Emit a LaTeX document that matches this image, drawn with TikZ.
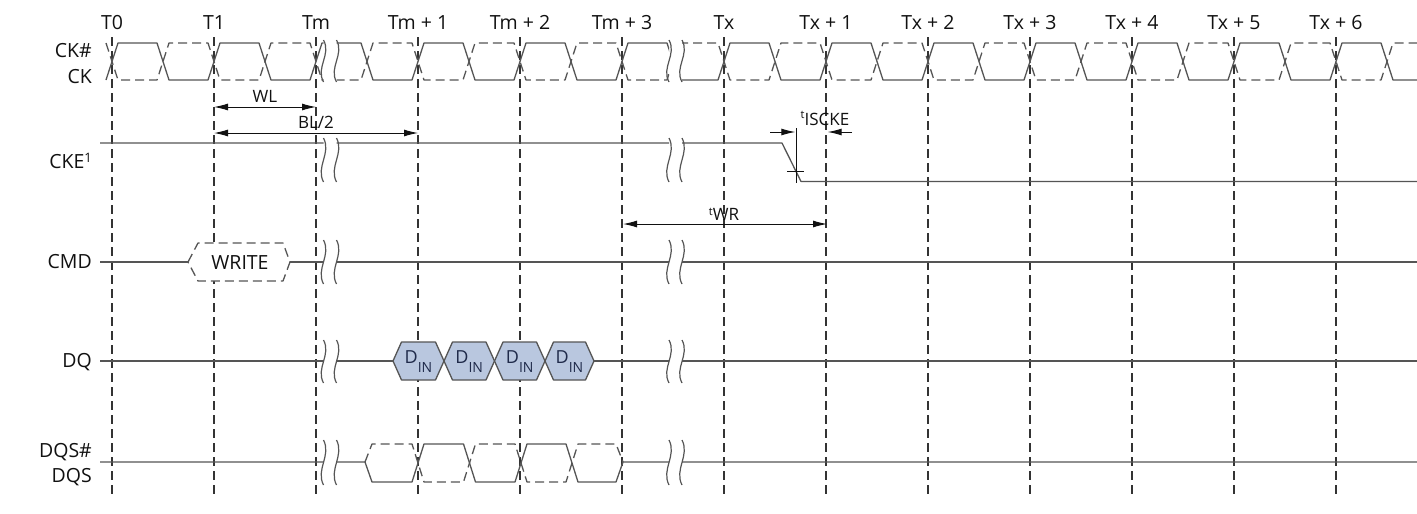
\documentclass[tikz,border=0pt]{standalone}
\usepackage{fontspec}
\setmainfont{Open Sans}
\usetikzlibrary{arrows.meta}
\definecolor{wavec}{HTML}{555555}
\definecolor{gridc}{HTML}{333333}
\definecolor{txt}{HTML}{111111}
\definecolor{dinfill}{HTML}{B9C7DF}
\definecolor{dintxt}{HTML}{1F2A4A}
\begin{document}
\begin{tikzpicture}[x=1pt,y=-1pt,
  wave/.style={draw=wavec, line width=1.3pt, line join=round},
  dashwave/.style={wave, dash pattern=on 9pt off 5pt},
  gridline/.style={draw=gridc, line width=1.3pt, dash pattern=on 9pt off 5pt},
  brkmark/.style={draw=wavec, line width=1.2pt},
  dimarrow/.style={draw=txt, line width=1pt, {Latex[length=14pt,width=7pt]}-{Latex[length=14pt,width=7pt]}},
  onearrow/.style={draw=txt, line width=1pt, -{Latex[length=14pt,width=7pt]}},
  tlabel/.style={text=txt, font=\fontsize{19.5}{20}\selectfont, anchor=base, inner sep=0pt},
  slabel/.style={text=txt, font=\fontsize{19.5}{20}\selectfont, anchor=base east, inner sep=0pt},
  alabel/.style={text=txt, font=\fontsize{17}{18}\selectfont, anchor=base, inner sep=0pt},
  dintext/.style={text=dintxt, font=\fontsize{18}{18}\selectfont, anchor=base, inner sep=0pt},
]
\useasboundingbox[fill=white] (0,0) rectangle (1417,514);

% grid lines and time labels
\foreach \i/\lab in {0/T0,1/T1,2/Tm,3/Tm + 1,4/Tm + 2,5/Tm + 3,6/Tx,7/Tx + 1,8/Tx + 2,9/Tx + 3,10/Tx + 4,11/Tx + 5,12/Tx + 6}{
  \coordinate (g\i) at ({112+102*\i},37);
  \coordinate (h\i) at ({112+102*\i},498);
  \draw[gridline] (g\i) -- (h\i);
  \node[tlabel] (tl\i) at ({112+102*\i},29) {\lab};
}

% signal labels
\node[slabel] (lck1) at (92,57) {CK\#};
\node[slabel] (lck) at (92,83) {CK};
\node[slabel] (lcke) at (92,168) {CKE\raisebox{6pt}{\fontsize{13}{13}\selectfont 1}};
\node[slabel] (lcmd) at (92,268.5) {CMD};
\node[slabel] (ldq) at (92,367) {DQ};
\node[slabel] (ldqs1) at (92,457) {DQS\#};
\node[slabel] (ldqs) at (92,482) {DQS};

% signals, interrupted at the two breaks
\begin{scope}
\clip (0,0) rectangle (323.5,514) (336.5,0) rectangle (669,514) (682,0) rectangle (1417,514);
% CK
\draw[wave] (106,80) \foreach \i in {0,...,12}{ -- ({118+102*\i},43) -- ({157+102*\i},43) -- ({169+102*\i},80) -- ({208+102*\i},80) };
% CK#
\draw[dashwave] (106,43) \foreach \i in {0,...,12}{ -- ({118+102*\i},80) -- ({157+102*\i},80) -- ({169+102*\i},43) -- ({208+102*\i},43) };
% CKE
\draw[wave] (100,143) -- (782,143) -- (801,181.5) -- (1417,181.5);
% CMD
\draw[wave] (100,262) -- (188,262);
\draw[wave] (290,262) -- (1417,262);
% DQ
\draw[wave] (100,361) -- (393,361);
\draw[wave] (594,361) -- (1417,361);
% DQS
\draw[wave] (100,462) -- (365,462) -- (372,482) -- (412,482) -- (424,444) -- (463.5,444) -- (475.5,482) -- (515,482) -- (527,444) -- (566,444) -- (578,482) -- (616,482) -- (623,462) -- (1417,462);
% DQS#
\draw[dashwave] (365,462) -- (372,444) -- (412,444) -- (424,482) -- (463.5,482) -- (475.5,444) -- (515,444) -- (527,482) -- (566,482) -- (578,444) -- (616,444) -- (623,462);
\end{scope}

% break marks
\foreach \xb in {323.5,336.5,669,682}{
  \foreach \ya/\yb in {40/82,138/182,240/284,340/383,440/485}{
    \draw[brkmark] (\xb,\ya) .. controls ({\xb+8},{\ya+0.35*(\yb-\ya)}) and ({\xb-8},{\ya+0.65*(\yb-\ya)}) .. (\xb,\yb);
  }
}

% WRITE command
\draw[dashwave, fill=white] (188,262) -- (198,243) -- (283,243) -- (290,262) -- (283,281) -- (198,281) -- cycle;
\node[tlabel] (write) at (240,269) {WRITE};

% data in
\foreach \a/\b [count=\k] in {393/444,444/494.5,494.5/545,545/594}{
  \draw[wave, fill=dinfill] (\a,361) -- ({\a+8.5},342) -- ({\b-8.5},342) -- (\b,361) -- ({\b-8.5},380) -- ({\a+8.5},380) -- cycle;
  \node[dintext] (din\k) at ({(\a+\b)/2},363) {D\raisebox{-9pt}{\fontsize{14}{14}\selectfont IN}};
}

% WL and BL/2
\coordinate (wlA) at (214,107);
\coordinate (wlB) at (316,107);
\draw[dimarrow] (wlA) -- (wlB);
\node[alabel] (wl) at (265,102) {WL};
\coordinate (blA) at (214,133);
\coordinate (blB) at (418,133);
\draw[dimarrow] (blA) -- (blB);
\node[alabel] (bl) at (316,128) {BL/2};

% tWR
\coordinate (wrA) at (623,224);
\coordinate (wrB) at (827,224);
\draw[dimarrow] (wrA) -- (wrB);
\node[alabel] (twr) at (724,220) {\raisebox{5pt}{\fontsize{11}{11}\selectfont t}WR};

% tISCKE
\coordinate (isA) at (796,128);
\coordinate (isB) at (796,183);
\draw[draw=txt, line width=1pt] (isA) -- (isB);
\coordinate (tkA) at (787,171);
\coordinate (tkB) at (804,171);
\draw[draw=txt, line width=1pt] (tkA) -- (tkB);
\coordinate (arL0) at (770,132);
\coordinate (arL1) at (795.3,132);
\draw[onearrow] (arL0) -- (arL1);
\coordinate (arR0) at (852,132);
\coordinate (arR1) at (827.7,132);
\draw[onearrow] (arR0) -- (arR1);
\node[alabel] (tis) at (825,125) {\raisebox{7pt}{\fontsize{11}{11}\selectfont t}ISCKE};
\end{tikzpicture}
\end{document}
